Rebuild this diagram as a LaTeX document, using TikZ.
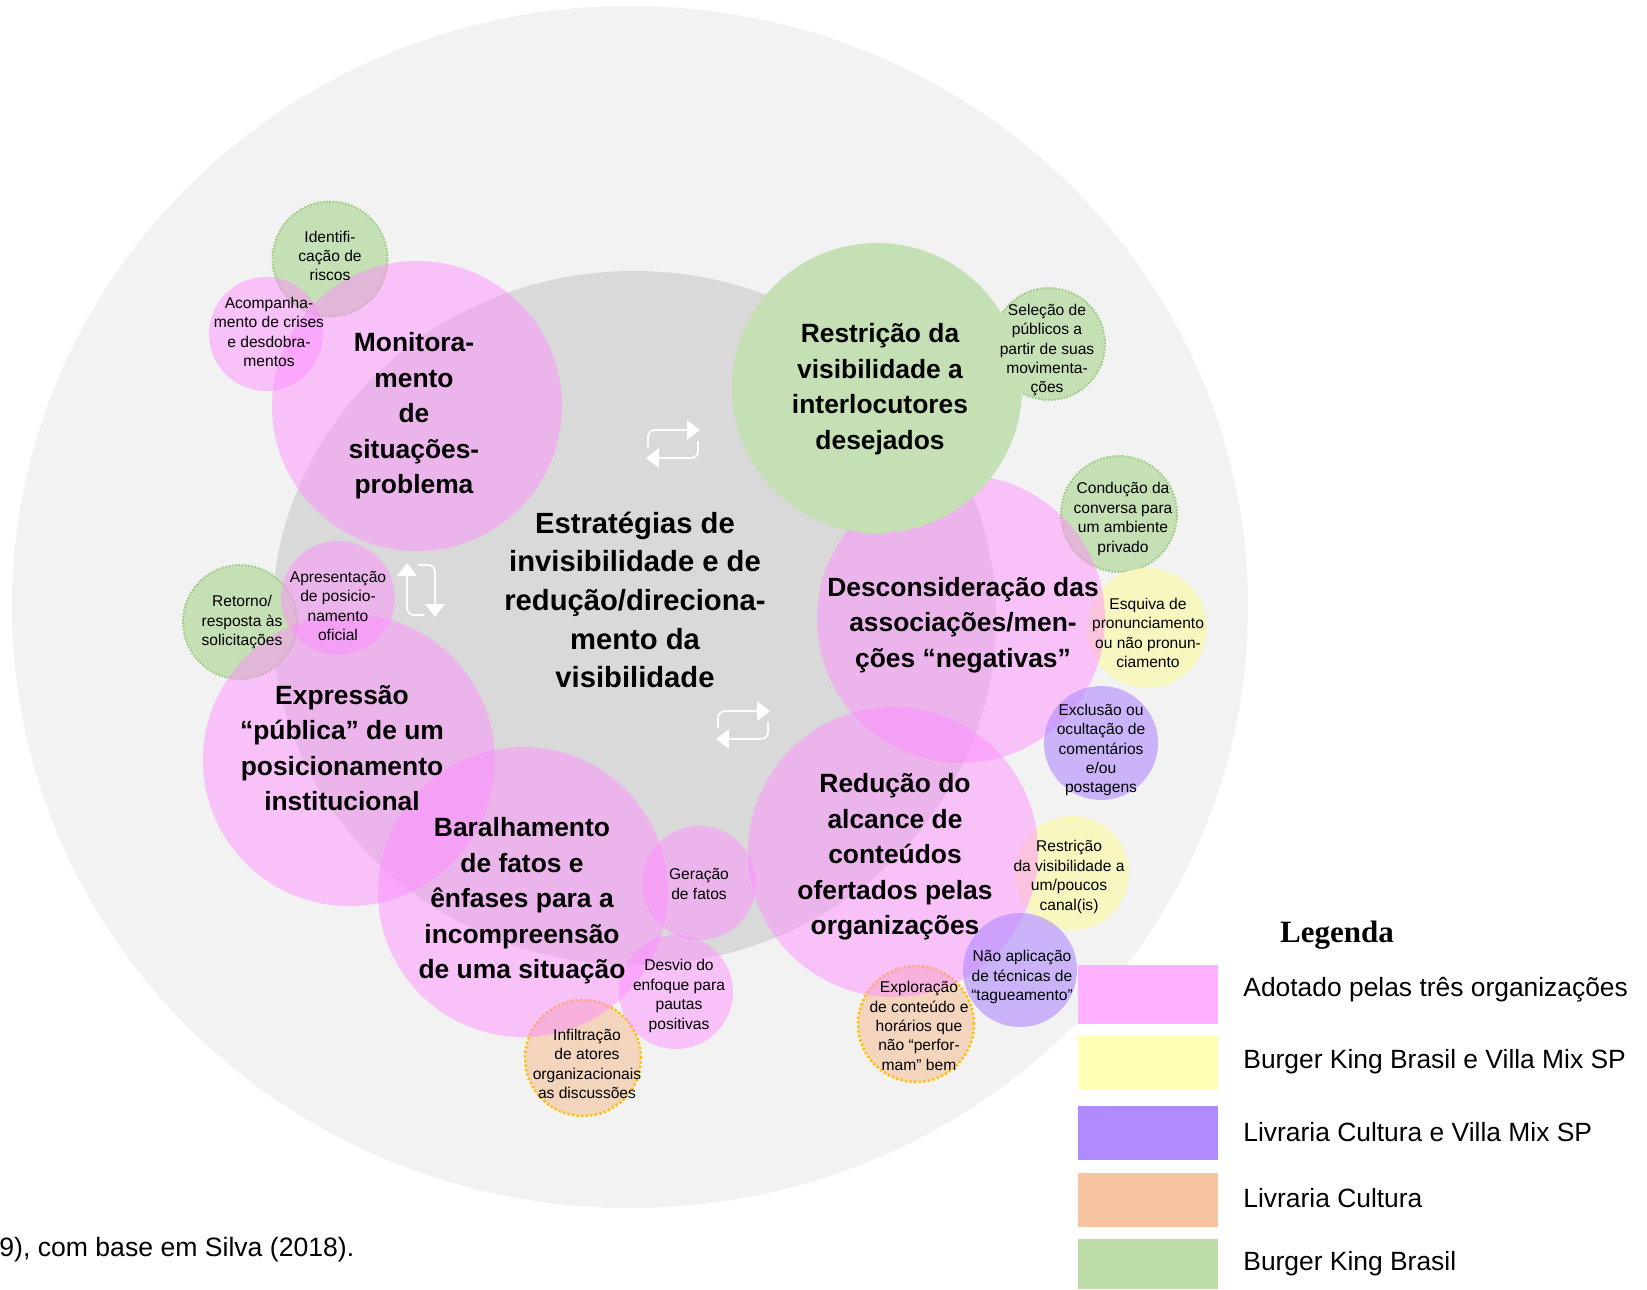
\documentclass[tikz,border=0pt]{standalone}
\usepackage{fontspec}
\setmainfont{Liberation Sans}
\newfontfamily\legendserif{Liberation Serif}
\definecolor{outergray}{RGB}{242,242,242}
\definecolor{innergray}{RGB}{217,217,217}
\definecolor{bpink}{RGB}{255,140,255}
\definecolor{bgreen}{RGB}{197,224,180}
\definecolor{bgreenline}{RGB}{160,202,132}
\definecolor{byellow}{RGB}{249,247,192}
\definecolor{bpurple}{RGB}{176,138,255}
\definecolor{borange}{RGB}{245,196,160}
\definecolor{bgold}{RGB}{255,192,0}
\definecolor{lgpink}{RGB}{255,176,255}
\definecolor{lgyellow}{RGB}{255,255,181}
\definecolor{lgpurple}{RGB}{176,138,255}
\definecolor{lgorange}{RGB}{246,196,160}
\definecolor{lggreen}{RGB}{190,220,168}
\newcommand{\bigfnt}{\fontsize{13.2}{17.75}\selectfont\bfseries}
\newcommand{\ctrfnt}{\fontsize{14.6}{19.3}\selectfont\bfseries}
\newcommand{\smallfnt}{\fontsize{7.8}{9.7}\selectfont}
\tikzset{
  bubble/.style={circle, inner sep=0pt, outer sep=0pt},
  pinkbub/.style={bubble, fill=bpink, fill opacity=0.48},
  greenbub/.style={bubble, fill=bgreen},
  greendot/.style={bubble, fill=bgreen, draw=bgreenline, line width=1pt, dash pattern=on 0.8pt off 0.8pt},
  yellowbub/.style={bubble, fill=byellow},
  purplebub/.style={bubble, fill=bpurple, fill opacity=0.6},
  orangedot/.style={bubble, fill=borange, fill opacity=0.65, draw=bgold, draw opacity=1, line width=1.3pt, dash pattern=on 1.1pt off 1.2pt},
  bigtext/.style={align=center, font=\bigfnt, text=black, inner sep=0pt},
  centertext/.style={align=center, font=\ctrfnt, text=black, inner sep=0pt},
  smalltext/.style={align=center, font=\smallfnt, text=black, inner sep=0pt},
  legtext/.style={anchor=west, font=\fontsize{13.2}{15}\selectfont, inner sep=0pt},
  iconline/.style={white, line width=0.9pt, rounded corners=3.5pt},
  repeaticon/.pic={
    \draw[iconline] (-25,3) -- (-25,-14) -- (15,-14);
    \fill[white] (14,-24) -- (27,-14) -- (14,-4) -- cycle;
    \draw[iconline] (25,-3) -- (25,14) -- (-15,14);
    \fill[white] (-14,4) -- (-27,14) -- (-14,24) -- cycle;
  }
}
\begin{document}
\begin{tikzpicture}[x=0.5pt,y=-0.5pt]
\useasboundingbox (0,0) rectangle (1647,1289);
\fill[white] (0,0) rectangle (1647,1289);
\path[fill=outergray] (630,607) ellipse[x radius=618, y radius=601];
\path[fill=innergray] (634,618) ellipse[x radius=362, y radius=347];
% green dotted
\node[greendot, minimum size=57.5pt] (cIdent) at (330,259) {};
\node[greendot, minimum size=57pt] (cRetorno) at (240,622) {};
\node[greendot, minimum size=58pt] (cConducao) at (1119,514) {};
\node[greendot, minimum size=56pt] (cSelecao) at (1049,344) {};
% yellow
\node[yellowbub, minimum size=60pt] (cEsquiva) at (1147,628) {};
\node[yellowbub, minimum size=57pt] (cRestUm) at (1072,873) {};
% orange
\node[orangedot, minimum size=58pt] (cExplor) at (916,1024) {};
\node[orangedot, minimum size=58pt] (cInfil) at (583,1058) {};
% pink
\node[pinkbub, minimum size=145pt] (cMon) at (417,406) {};
\node[pinkbub, minimum size=57pt] (cAcomp) at (266,334) {};
\node[pinkbub, minimum size=146pt] (cExpr) at (349,760) {};
\node[pinkbub, minimum size=57pt] (cApres) at (338,598) {};
\node[pinkbub, minimum size=145pt] (cBaral) at (523,892) {};
\node[pinkbub, minimum size=57pt] (cGer) at (699,883) {};
\node[pinkbub, minimum size=57pt] (cDesvio) at (676,992) {};
\node[pinkbub, minimum size=144pt] (cDescons) at (961,619) {};
\node[pinkbub, minimum size=145pt] (cReduc) at (893,852) {};
% big green
\node[greenbub, minimum size=145pt] (cRestr) at (877,388) {};
% purple
\node[purplebub, minimum size=57pt] (cExcl) at (1101,743) {};
\node[purplebub, minimum size=57pt] (cNaoAp) at (1020,970) {};
% icons
\pic at (673,444) {repeaticon};
\pic at (743,725) {repeaticon};
\pic[rotate=90] at (421,590) {repeaticon};
% big texts
\node[bigtext] (tMon) at (414,416) {Monitora-\\mento\\de\\situações-\\problema};
\node[bigtext] (tRestr) at (880,389) {Restrição da\\visibilidade a\\interlocutores\\desejados};
\node[bigtext] (tDescons) at (963,625) {Desconsideração das\\associações/men-\\ções “negativas”};
\node[bigtext] (tReduc) at (895,857) {Redução do\\alcance de\\conteúdos\\ofertados pelas\\organizações};
\node[bigtext] (tBaral) at (522,901) {Baralhamento\\de fatos e\\ênfases para a\\incompreensão\\de uma situação};
\node[bigtext] (tExpr) at (342,748) {Expressão\\“pública” de um\\posicionamento\\institucional};
\node[centertext] (tCenter) at (635,600) {Estratégias de\\invisibilidade e de\\redução/direciona-\\mento da\\visibilidade};
% small texts
\node[smalltext] (tIdent) at (330,256) {Identifi-\\cação de\\riscos};
\node[smalltext] (tAcomp) at (269,332) {Acompanha-\\mento de crises\\e desdobra-\\mentos};
\node[smalltext] (tSelecao) at (1047,350) {Seleção de\\públicos a\\partir de suas\\movimenta-\\ções};
\node[smalltext] (tConducao) at (1123,519) {Condução da\\conversa para\\um ambiente\\privado};
\node[smalltext] (tEsquiva) at (1148,633) {Esquiva de\\pronunciamento\\ou não pronun-\\ciamento};
\node[smalltext] (tExcl) at (1101,750) {Exclusão ou\\ocultação de\\comentários\\e/ou\\postagens};
\node[smalltext] (tRestUm) at (1069,877) {Restrição\\da visibilidade a\\um/poucos\\canal(is)};
\node[smalltext] (tNaoAp) at (1022,977) {Não aplicação\\de técnicas de\\“tagueamento”};
\node[smalltext] (tExplor) at (919,1026) {Exploração\\de conteúdo e\\horários que\\não “perfor-\\mam” bem};
\node[smalltext] (tGer) at (699,884) {Geração\\de fatos};
\node[smalltext] (tDesvio) at (679,996) {Desvio do\\enfoque para\\pautas\\positivas};
\node[smalltext] (tInfil) at (587,1064) {Infiltração\\de atores\\organizacionais\\as discussões};
\node[smalltext] (tRetorno) at (242,622) {Retorno/\\resposta às\\solicitações};
\node[smalltext] (tApres) at (338,606) {Apresentação\\de posicio-\\namento\\oficial};
% legend
\node[inner sep=0pt, font=\legendserif\bfseries\fontsize{15.5}{17}\selectfont] (tLegenda) at (1337,935) {Legenda};
\path[fill=lgpink] (1078,965) rectangle (1218,1024);
\path[fill=lgyellow] (1078,1036) rectangle (1218,1090);
\path[fill=lgpurple] (1078,1106) rectangle (1218,1160);
\path[fill=lgorange] (1078,1173) rectangle (1218,1227);
\path[fill=lggreen] (1078,1239) rectangle (1218,1289);
\node[legtext] (lg1) at (1243,990) {Adotado pelas três organizações};
\node[legtext] (lg2) at (1243,1062) {Burger King Brasil e Villa Mix SP};
\node[legtext] (lg3) at (1243,1132) {Livraria Cultura e Villa Mix SP};
\node[legtext] (lg4) at (1243,1198) {Livraria Cultura};
\node[legtext] (lg5) at (1243,1264) {Burger King Brasil};
% caption
\node[anchor=west, inner sep=0pt, font=\fontsize{13.3}{15}\selectfont] (tCaption) at (-1,1250) {9), com base em Silva (2018).};
\end{tikzpicture}
\end{document}
